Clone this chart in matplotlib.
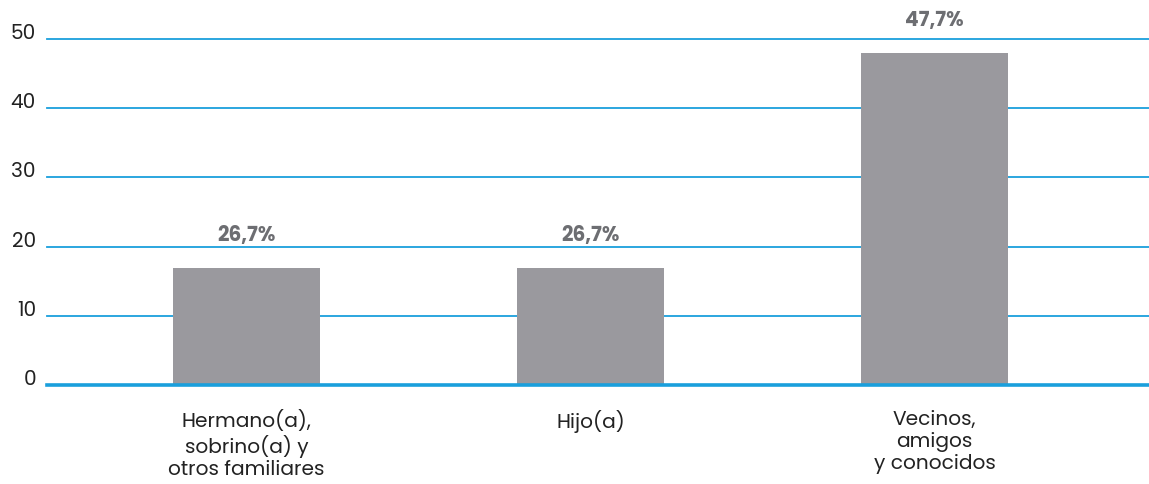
import matplotlib
matplotlib.use("Agg")
import matplotlib.pyplot as plt

categories = ["Hermano(a),\nsobrino(a) y\notros familiares", "Hijo(a)", "Vecinos,\namigos\ny conocidos"]
values = [16.9, 16.9, 48.0]
value_labels = ["26,7%", "26,7%", "47,7%"]
yticks = [0, 10, 20, 30, 40, 50]

plt.rcParams['font.family'] = ['Poppins', 'Lato', 'DejaVu Sans']

fig = plt.figure(figsize=(11.49, 4.84), dpi=100)
ax = fig.add_axes([47/1149, 1 - 385/484, 1 - 47/1149, (385 - 39) / 484])
ax.set_ylim(0, 50)
ax.set_xlim(-0.58, 2.624)

grid_color = "#1a9fdc"
for t in yticks[1:]:
    ax.axhline(t, color=grid_color, lw=1.3, zorder=1, clip_on=False)
ax.axhline(0, color=grid_color, lw=2.6, zorder=3, clip_on=False)

x = list(range(len(categories)))
ax.bar(x, values, width=0.427, color="#9a999e", zorder=2)
for xi, v, lab in zip(x, values, value_labels):
    ax.annotate(lab, (xi, v), xytext=(0, 15), textcoords="offset points",
                ha="center", va="bottom", fontsize=14.5, fontweight="bold", color="#6d6e72")

for s in ax.spines.values():
    s.set_visible(False)
ax.set_yticks(yticks)
ax.set_yticklabels([str(t) for t in yticks], fontsize=14.5, color="#222222", va="baseline")
ax.tick_params(axis='y', length=0, pad=8)
ax.tick_params(axis='x', length=0, pad=18)
ax.set_xticks(x)
ax.set_xticklabels(categories, fontsize=14.5, color="#222222", linespacing=1.15)

fig.savefig("out.png", dpi=100)
